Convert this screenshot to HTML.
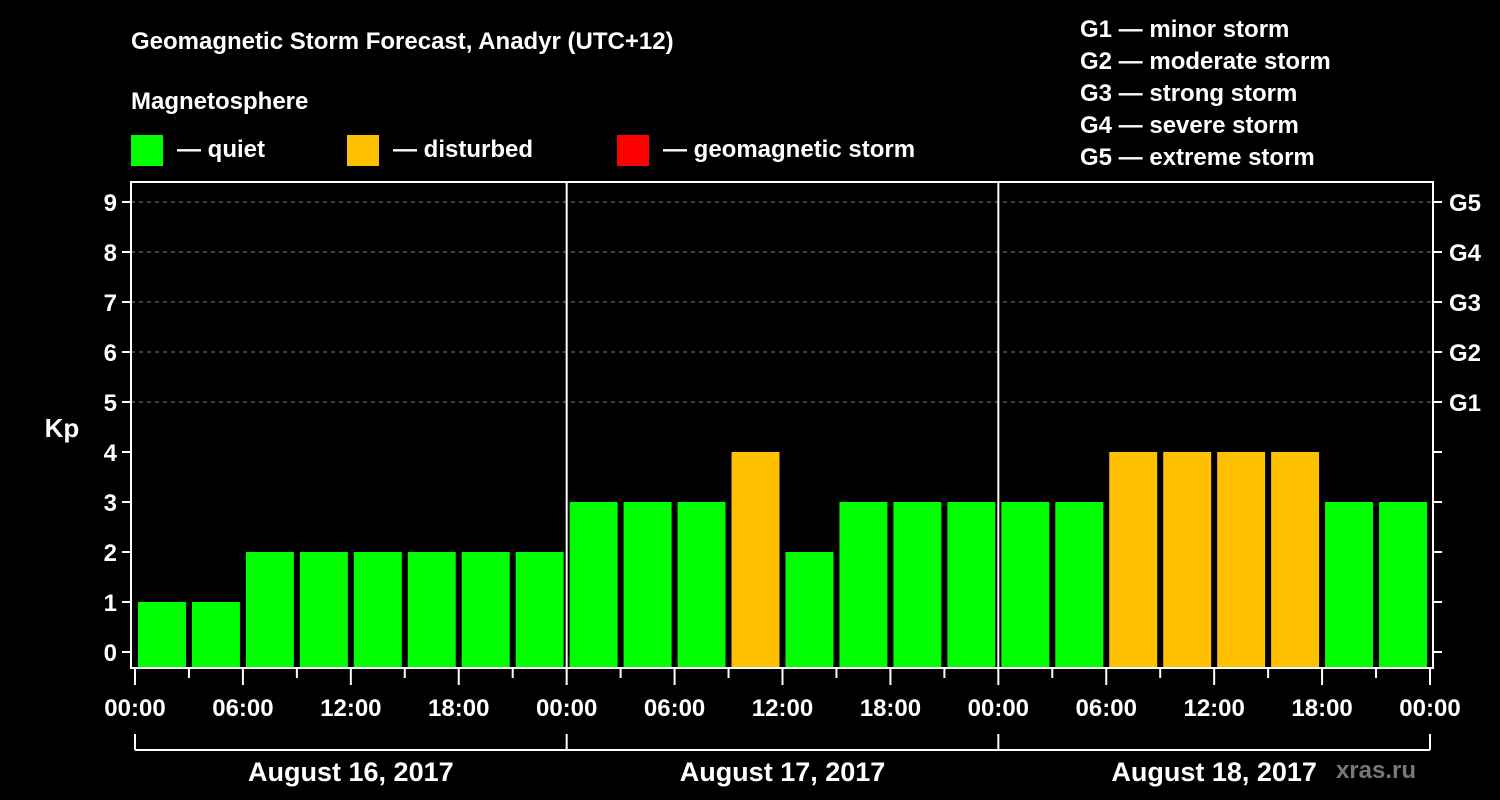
<!DOCTYPE html>
<html><head><meta charset="utf-8"><style>
html,body{margin:0;padding:0;background:#000;}
svg{display:block;font-family:"Liberation Sans",Arial,sans-serif;font-weight:bold;}
</style></head><body>
<svg id="chart" width="1500" height="800" viewBox="0 0 1500 800">
<rect width="1500" height="800" fill="#000"/>
<text x="131" y="49" fill="#fff" font-size="24">Geomagnetic Storm Forecast, Anadyr (UTC+12)</text>
<text x="131" y="109" fill="#fff" font-size="24">Magnetosphere</text>
<g><rect x="131" y="135" width="32" height="31" fill="#00ff00"/><text x="177" y="157" fill="#fff" font-size="24">— quiet</text></g>
<g><rect x="347" y="135" width="32" height="31" fill="#ffc000"/><text x="393" y="157" fill="#fff" font-size="24">— disturbed</text></g>
<g><rect x="617" y="135" width="32" height="31" fill="#ff0000"/><text x="663" y="157" fill="#fff" font-size="24">— geomagnetic storm</text></g>
<g fill="#fff" font-size="24">
<text x="1080" y="37">G1 — minor storm</text>
<text x="1080" y="69">G2 — moderate storm</text>
<text x="1080" y="101">G3 — strong storm</text>
<text x="1080" y="133">G4 — severe storm</text>
<text x="1080" y="165">G5 — extreme storm</text>
</g>
<text x="62" y="437" fill="#fff" font-size="26" text-anchor="middle">Kp</text>
<text x="1416" y="778" fill="#777" font-size="24" text-anchor="end">xras.ru</text>
<g id="grid"></g><g id="bars"></g><g id="axes"></g>
</svg>
<script>
const kpValues=[1,1,2,2,2,2,2,2, 3,3,3,4,2,3,3,3, 3,3,4,4,4,4,3,3];
const dayLabels=["August 16, 2017","August 17, 2017","August 18, 2017"];
const timeLabels=["00:00","06:00","12:00","18:00"];
const gLabels=["G1","G2","G3","G4","G5"];
const NS="http://www.w3.org/2000/svg";
const X0=135,PX_H=1295/72,Y0=652,PX_K=50,L=131,R=1433,T=182,B=668;
const xh=h=>X0+h*PX_H, yk=k=>Y0-k*PX_K;
function mk(tag,a,p){const e=document.createElementNS(NS,tag);for(const k in a)e.setAttribute(k,a[k]);p.appendChild(e);return e;}
const grid=document.getElementById('grid'),bars=document.getElementById('bars'),axes=document.getElementById('axes');
for(let k=5;k<=9;k++){const l=mk('line',{x1:L,x2:R,y1:yk(k),y2:yk(k),stroke:'#888','stroke-dasharray':'4,4','stroke-width':1},grid);

}
kpValues.forEach((v,i)=>{const c=v>=5?'#ff0000':v>=4?'#ffc000':'#00ff00';
const x=xh(i*3)+3,w=3*PX_H-6;
const r=mk('rect',{x:x,y:yk(v),width:w,height:B-yk(v),fill:c},bars);

});
// frame
const f=mk('rect',{x:L,y:T,width:R-L,height:B-T,fill:'none',stroke:'#fff','stroke-width':2},axes);


[24,48].forEach(h=>{const l=mk('line',{x1:xh(h),x2:xh(h),y1:T,y2:B,stroke:'#fff','stroke-width':2},axes);

});
for(let k=0;k<=9;k++){
mk('line',{x1:L-9,x2:L,y1:yk(k),y2:yk(k),stroke:'#fff','stroke-width':2},axes);
mk('line',{x1:R,x2:R+9,y1:yk(k),y2:yk(k),stroke:'#fff','stroke-width':2},axes);
const t=mk('text',{x:L-14,y:yk(k)+9,fill:'#fff','font-size':24,'text-anchor':'end'},axes);t.textContent=k;

}
gLabels.forEach((g,i)=>{const t=mk('text',{x:R+16,y:yk(5+i)+9,fill:'#fff','font-size':24},axes);t.textContent=g;

});
for(let h=0;h<=72;h+=3){const major=h%6==0;
mk('line',{x1:xh(h),x2:xh(h),y1:B,y2:B+(major?17:10),stroke:'#fff','stroke-width':2},axes);
if(major&&(h%24==0||h%6==0)){const t=mk('text',{x:xh(h),y:716,fill:'#fff','font-size':24,'text-anchor':'middle'},axes);
t.textContent=timeLabels[(h%24)/6];

}}
mk('line',{x1:xh(0),x2:xh(72),y1:750,y2:750,stroke:'#fff','stroke-width':2},axes);
for(let d=0;d<=3;d++)mk('line',{x1:xh(d*24),x2:xh(d*24),y1:734,y2:750,stroke:'#fff','stroke-width':2},axes);
dayLabels.forEach((s,i)=>{const t=mk('text',{x:xh(i*24+12),y:781,fill:'#fff','font-size':27,'text-anchor':'middle'},axes);t.textContent=s;

});
</script>
</body></html>
